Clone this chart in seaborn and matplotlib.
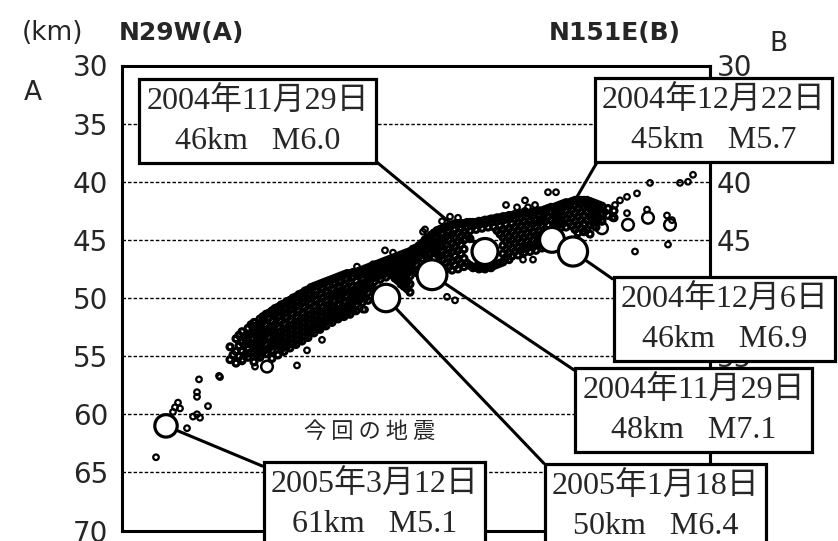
import matplotlib
matplotlib.use("Agg")
import matplotlib.pyplot as plt
import numpy as np
import pandas as pd
import seaborn as sns

sns.set_style("white")
plt.rcParams["font.family"] = ["DejaVu Sans", "Noto Sans CJK JP"]

W, H = 838, 541

# --- main shocks (distance along profile km, depth km, magnitude) ---
main_date = ["2005年3月12日", "2005年1月18日", "2004年11月29日",
             "2004年11月29日", "2004年12月22日", "2004年12月6日"]
main_dist = [8.8, 52.8, 62.0, 72.6, 86.0, 90.2]
main_depth = [61, 50, 48, 46, 45, 46]
main_mag = [5.1, 6.4, 7.1, 6.0, 5.7, 6.9]

# --- moderate aftershocks ---
mid_dist = [29.0, 96.0, 101.2, 105.2, 109.6]
mid_depth = [55.9, 44.0, 43.7, 43.1, 43.7]

# --- scattered small events ---
tail_dist = [15.4, 19.4, 15.0, 15.0, 17.2, 11.2, 10.6, 11.6, 10.2, 14.2, 15.0, 15.6, 13.0, 6.8]
tail_depth = [57.0, 56.7, 58.1, 58.5, 59.3, 59.0, 59.4, 59.5, 59.8, 60.2, 60.0, 60.3, 61.2, 63.7]

loose_dist = [19.6, 24.2, 26.6, 35.0, 30.6, 40.0, 37.0, 39.2, 48.6, 47.0, 48.2, 52.6, 54.2,
              50.2, 60.6, 67.2, 60.2, 65.0, 66.6, 76.8, 79.0, 80.6, 81.2, 82.6, 80.6, 80.2,
              82.2, 78.0, 85.2, 86.8, 102.6, 109.2, 105.6, 111.6, 114.2, 101.0, 105.0, 109.0,
              98.0, 96.6, 98.6, 101.0, 103.0, 92.6, 99.6, 110.0, 113.2, 64.0, 65.6]
loose_depth = [56.8, 55.3, 55.9, 55.8, 51.6, 53.6, 54.5, 52.7, 51.0, 47.3, 51.0, 45.9, 46.1,
               47.1, 44.1, 43.1, 44.3, 49.9, 50.2, 42.0, 42.2, 41.6, 42.2, 42.0, 42.5, 46.7,
               46.7, 46.4, 40.9, 40.9, 46.0, 45.4, 40.1, 40.1, 39.4, 42.7, 42.4, 42.9, 43.1,
               42.6, 42.0, 41.3, 41.0, 44.3, 41.6, 43.3, 40.0, 43.4, 43.0]

# dense aftershock band, read column by column: (distance, [depths])
band_cols = [
    (21.6, [54.2, 55.3]),
    (22.2, [54.9]),
    (22.8, [53.5, 54.6, 55.6]),
    (23.4, [53.2, 54.1, 55.0]),
    (24.0, [52.9, 53.8, 54.6, 55.4]),
    (24.6, [53.3, 54.0, 54.9]),
    (25.2, [52.6, 53.4, 54.3, 55.1]),
    (25.8, [52.3, 53.1, 54.0, 54.7]),
    (26.4, [52.1, 53.0, 53.9, 54.7, 55.5]),
    (27.0, [52.4, 53.3, 54.1, 55.0]),
    (27.6, [51.8, 52.6, 53.5, 54.3, 55.1]),
    (28.2, [51.6, 52.0, 52.9, 53.7, 54.6]),
    (28.8, [51.4, 52.3, 53.1, 54.0, 54.8]),
    (29.4, [51.3, 51.7, 52.6, 53.4, 54.3]),
    (30.0, [51.1, 52.0, 52.8, 53.7, 54.5, 55.2]),
    (30.6, [50.9, 51.4, 52.3, 53.1, 53.9]),
    (31.2, [50.8, 51.6, 52.5, 53.3, 54.1, 54.9]),
    (31.8, [50.6, 51.2, 52.0, 52.9, 53.6, 54.4]),
    (32.4, [50.5, 51.3, 52.2, 53.0, 53.8, 54.6]),
    (33.0, [50.3, 50.9, 51.7, 52.6, 53.4, 54.1]),
    (33.6, [50.2, 51.0, 51.9, 52.7, 53.5, 54.3]),
    (34.2, [50.0, 50.6, 51.4, 52.3, 53.1, 53.9]),
    (34.8, [49.9, 50.7, 51.6, 52.4, 53.2, 54.0]),
    (35.4, [49.7, 50.3, 51.1, 52.0, 52.8, 53.6]),
    (36.0, [49.6, 50.4, 51.3, 52.1, 52.9, 53.7]),
    (36.6, [49.4, 50.0, 50.8, 51.7, 52.5, 53.3]),
    (37.2, [49.3, 50.1, 51.0, 51.8, 52.6, 53.4]),
    (37.8, [49.1, 49.7, 50.5, 51.4, 52.2, 52.9]),
    (38.4, [49.0, 49.8, 50.7, 51.5, 52.3, 53.0]),
    (39.0, [48.9, 49.4, 50.2, 51.1, 51.9, 52.6]),
    (39.6, [48.8, 49.6, 50.4, 51.2, 52.0, 52.7]),
    (40.2, [48.7, 49.2, 50.0, 50.8, 51.6, 52.3]),
    (40.8, [48.6, 49.4, 50.2, 51.0, 51.7, 52.4]),
    (41.4, [48.5, 49.0, 49.8, 50.6, 51.3, 52.0]),
    (42.0, [48.4, 49.2, 49.9, 50.7, 51.4, 52.1]),
    (42.6, [48.3, 48.8, 49.6, 50.3, 51.1, 51.7]),
    (43.2, [48.2, 49.0, 49.7, 50.5, 51.2, 51.8]),
    (43.8, [48.1, 48.6, 49.4, 50.1, 50.9, 51.5]),
    (44.4, [48.0, 48.8, 49.5, 50.3, 51.0, 51.6]),
    (45.0, [47.9, 48.4, 49.2, 49.9, 50.7, 51.3]),
    (45.6, [47.9, 48.6, 49.4, 50.1, 50.8, 51.4]),
    (46.2, [47.8, 48.2, 49.0, 49.7, 50.4, 51.0]),
    (46.8, [47.8, 48.5, 49.2, 49.9, 50.6, 51.1]),
    (47.4, [47.7, 48.1, 48.9, 49.5, 50.2]),
    (48.0, [47.6, 48.3, 49.0, 49.7, 50.4]),
    (48.6, [47.5, 47.9, 48.7, 49.3, 50.0]),
    (49.2, [47.4, 48.1, 48.8, 49.5, 50.2]),
    (49.8, [47.3, 47.7, 48.4, 49.0]),
    (50.4, [47.2, 47.9, 48.6, 49.3]),
    (51.0, [47.1, 47.5, 48.2]),
    (51.6, [47.0, 47.7, 48.4]),
    (52.2, [46.9, 47.3, 48.0]),
    (52.8, [46.8, 47.5, 48.2]),
    (53.4, [46.7, 47.1, 47.8]),
    (54.0, [46.6, 47.3, 48.0]),
    (54.6, [46.5, 46.9, 47.6, 48.3]),
    (55.2, [46.4, 47.1, 47.8, 48.5]),
    (55.8, [46.3, 46.7, 47.4, 48.1, 48.8]),
    (56.4, [46.2, 46.9, 47.6, 48.3, 49.0]),
    (57.0, [46.1, 46.5, 47.2, 47.9, 48.6, 49.2]),
    (57.6, [46.0, 46.7, 47.4, 48.1, 48.8, 49.5]),
    (58.2, [45.8, 46.2, 46.9, 47.6]),
    (58.8, [45.7, 46.4, 47.1, 47.8]),
    (59.4, [45.5, 45.8, 46.4]),
    (60.0, [45.3, 46.0, 46.6]),
    (60.6, [45.0, 45.6, 46.3]),
    (61.2, [44.8, 45.5, 46.2, 46.8]),
    (61.8, [44.6, 45.1, 45.8]),
    (62.4, [44.4, 45.2, 45.9, 46.6]),
    (63.0, [44.2, 44.8, 45.5, 46.2]),
    (63.6, [44.1, 44.9, 45.6, 46.4]),
    (64.2, [44.0, 44.5, 45.2, 46.0, 46.7]),
    (64.8, [43.9, 44.7, 45.4, 46.2, 47.0]),
    (65.4, [43.8, 44.3, 45.0, 45.8, 46.6, 47.3]),
    (66.0, [43.7, 44.5, 45.3, 46.0, 46.8, 47.6]),
    (66.6, [43.6, 44.1, 44.8, 45.6, 46.4, 47.2]),
    (67.2, [43.6, 44.4, 45.1, 45.9, 46.7, 47.5]),
    (67.8, [43.6, 44.0, 44.7, 45.4, 46.2, 47.0]),
    (68.4, [43.6, 44.3, 45.0, 45.8, 46.6, 47.3]),
    (69.0, [43.5, 43.9, 44.6, 47.0]),
    (69.6, [43.5, 44.2, 44.9, 47.2]),
    (70.2, [43.5, 43.8, 47.4]),
    (70.8, [43.5, 44.1, 47.3]),
    (71.4, [43.4, 43.7, 47.5]),
    (72.0, [43.4, 44.0, 47.4]),
    (72.6, [43.3, 43.6, 47.5]),
    (73.2, [43.3, 43.9, 47.3]),
    (73.8, [43.2, 43.5, 47.4]),
    (74.4, [43.2, 43.9, 47.2]),
    (75.0, [43.1, 43.4, 44.2, 47.1]),
    (75.6, [43.1, 43.8, 44.5, 47.0]),
    (76.2, [43.0, 43.3, 44.1, 44.8, 45.5, 46.2, 46.9]),
    (76.8, [43.0, 43.7, 44.4, 45.1, 45.8, 46.5]),
    (77.4, [42.9, 43.2, 44.0, 44.7, 45.4, 46.1, 46.7]),
    (78.0, [42.9, 43.6, 44.3, 45.0, 45.7, 46.4]),
    (78.6, [42.8, 43.2, 43.9, 44.6, 45.3, 46.0]),
    (79.2, [42.8, 43.5, 44.2, 44.9, 45.6, 46.3]),
    (79.8, [42.7, 43.1, 43.8, 44.5, 45.2, 45.9]),
    (80.4, [42.7, 43.4, 44.1, 44.8, 45.5, 46.1]),
    (81.0, [42.7, 43.0, 43.7, 44.4, 45.1, 45.7]),
    (81.6, [42.7, 43.4, 44.0, 44.7, 45.4, 46.0]),
    (82.2, [42.6, 42.9, 43.6, 44.3, 45.0, 45.6]),
    (82.8, [42.6, 43.3, 43.9, 44.6, 45.3, 45.9]),
    (83.4, [42.5, 42.9, 43.5, 44.2, 44.8, 45.4]),
    (84.0, [42.5, 43.2, 43.8, 44.5, 45.1, 45.7]),
    (84.6, [42.4, 42.7, 43.4, 44.1]),
    (85.2, [42.3, 43.0, 43.7, 44.4]),
    (85.8, [42.2, 42.6, 43.3]),
    (86.4, [42.2, 42.9, 43.6]),
    (87.0, [42.1, 42.4, 43.1, 43.8]),
    (87.6, [42.0, 42.7, 43.4, 44.0]),
    (88.2, [41.9, 42.2, 42.9, 43.6]),
    (88.8, [41.8, 42.5, 43.2, 43.9]),
    (89.4, [41.8, 42.1, 42.8, 43.5]),
    (90.0, [41.7, 42.4, 43.1, 43.8]),
    (90.6, [41.6, 42.0, 42.7, 43.4, 44.1]),
    (91.2, [41.6, 42.3, 43.0, 43.7, 44.4]),
    (91.8, [41.6, 41.9, 42.6, 43.3, 44.0]),
    (92.4, [41.6, 42.2, 42.9, 43.6, 44.3]),
    (93.0, [41.6, 42.0, 42.6, 43.3, 44.1]),
    (93.6, [41.7, 42.3, 43.0, 43.7, 44.5]),
    (94.2, [41.8, 42.1, 42.8, 43.5]),
    (94.8, [41.9, 42.5, 43.2, 43.9]),
    (95.4, [42.0, 42.4, 43.1]),
    (96.0, [42.1, 42.8, 43.4]),
    (97.2, [42.3, 42.9]),
    (98.4, [42.5, 43.1]),
]

depth_ticks = [30, 35, 40, 45, 50, 55, 60, 65, 70]
right_ticks = [30, 40, 45, 55]

# annotation box centres in figure pixels (from top-left) and leader-line corner
box_xy = [(374.5, 504), (655.5, 506), (693.5, 410), (257.5, 121), (713.5, 120), (724.5, 319)]
box_corner = [(0, 1), (0, 1), (0, 1), (1, 0), (0, 0), (0, 1)]

band_dist = [d for d, zs in band_cols for _ in zs]
band_depth = [z for _, zs in band_cols for z in zs]
band = pd.DataFrame({"dist": band_dist, "depth": band_depth})
loose = pd.DataFrame({"dist": tail_dist + loose_dist, "depth": tail_depth + loose_depth})
mid = pd.DataFrame({"dist": mid_dist, "depth": mid_depth})
main = pd.DataFrame({"dist": main_dist, "depth": main_depth, "mag": main_mag, "date": main_date})

fig = plt.figure(figsize=(W / 100, H / 100), dpi=100)
ax = fig.add_axes([122 / W, 10.5 / H, 588 / W, 465 / H])

ax.grid(axis="y", color="black", linestyle=(0, (2.5, 1.5)), linewidth=1.0)
ax.set_axisbelow(True)

sns.scatterplot(data=band, x="dist", y="depth", ax=ax, s=18, facecolors="none",
                edgecolor="black", linewidth=2.3, legend=False, zorder=3)
sns.scatterplot(data=loose, x="dist", y="depth", ax=ax, s=16, facecolors="none",
                edgecolor="black", linewidth=1.6, legend=False, zorder=3)
sns.scatterplot(data=mid, x="dist", y="depth", ax=ax, s=70, facecolors="none",
                edgecolor="black", linewidth=1.8, legend=False, zorder=3)
size_rng = (260, 460)
sns.scatterplot(data=main, x="dist", y="depth", size="mag", sizes=size_rng,
                size_norm=(5.1, 7.1), ax=ax, color="white", edgecolor="black",
                linewidth=2.3, legend=False, zorder=4)

ax.set_xlim(0, 117.6)
ax.set_ylim(70, 30)
ax.set_xticks([])
ax.set_yticks(depth_ticks)
ax.set_xlabel("")
ax.set_ylabel("")
ax.tick_params(axis="y", length=0, pad=10, labelsize=20)
for sp in ax.spines.values():
    sp.set_visible(True)
    sp.set_color("black")
    sp.set_linewidth(2.2)

ax.text(49.6, 61.5, "今 回 の 地 震", ha="center", va="center", fontsize=16,
        family=["Noto Sans CJK JP"], zorder=5)

ax2 = ax.twinx()
ax2.set_ylim(70, 30)
ax2.set_yticks(right_ticks)
ax2.tick_params(axis="y", length=0, pad=5, labelsize=20)
for name, sp in ax2.spines.items():
    sp.set_visible(name == "right")
    sp.set_color("black")
    sp.set_linewidth(2.2)

for i, row in main.iterrows():
    label = f"{row['date']}\n{int(row['depth'])}km   M{row['mag']:.1f}"
    s = size_rng[0] + (row["mag"] - 5.1) / 2.0 * (size_rng[1] - size_rng[0])
    shrink = np.sqrt(s) / 2 + 1.1
    cx, cy = box_xy[i]
    ax2.annotate(label, xy=(row["dist"], row["depth"]), xycoords=ax.transData,
                 xytext=(cx, H - cy), textcoords="figure pixels",
                 ha="center", va="center", fontsize=23, linespacing=1.45,
                 family=["Liberation Serif", "Noto Sans CJK JP"],
                 bbox=dict(boxstyle="square,pad=0.22", fc="white", ec="black", lw=2.3),
                 arrowprops=dict(arrowstyle="-", color="black", lw=2.2,
                                 relpos=box_corner[i], shrinkA=0, shrinkB=shrink),
                 annotation_clip=False, zorder=6)

fig.text(52 / W, 1 - 33 / H, "(km)", ha="center", va="center", fontsize=19)
fig.text(181 / W, 1 - 33 / H, "N29W(A)", ha="center", va="center", fontsize=18, weight="bold")
fig.text(615 / W, 1 - 33 / H, "N151E(B)", ha="center", va="center", fontsize=18, weight="bold")
fig.text(33 / W, 1 - 93 / H, "A", ha="center", va="center", fontsize=19)
fig.text(778 / W, 1 - 44 / H, "B", ha="center", va="center", fontsize=19)

fig.savefig("out.png", dpi=100)
